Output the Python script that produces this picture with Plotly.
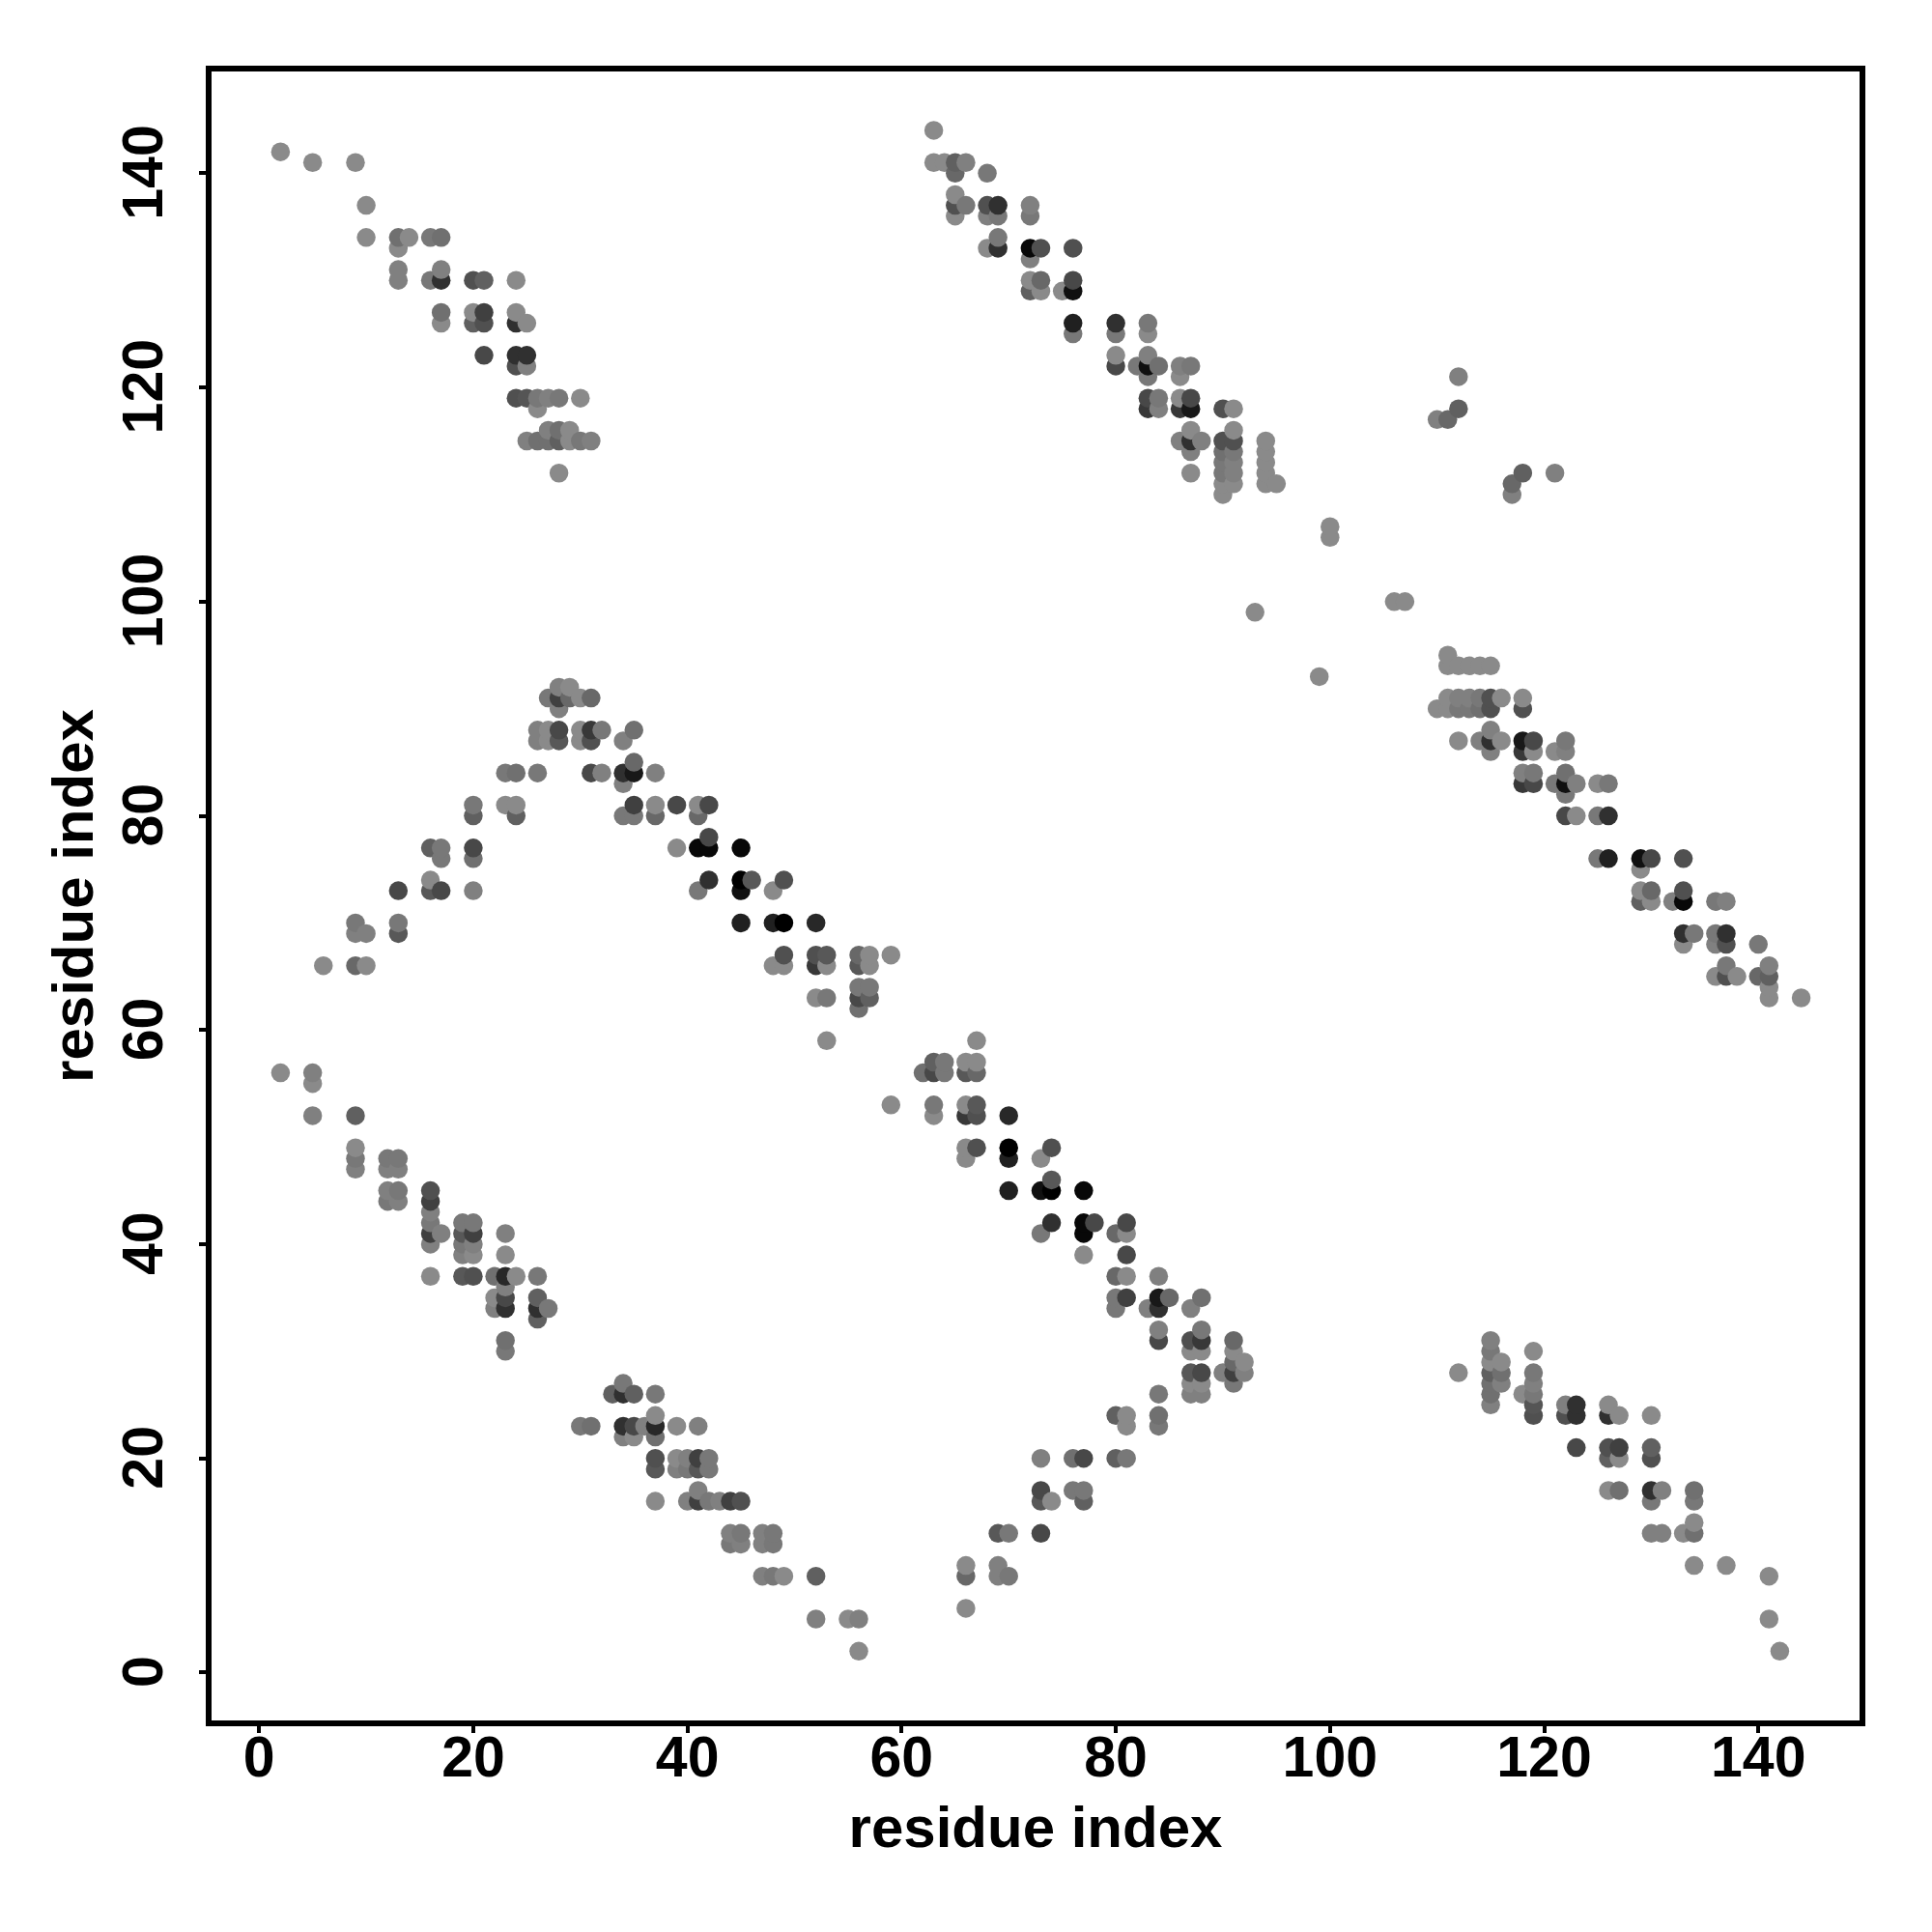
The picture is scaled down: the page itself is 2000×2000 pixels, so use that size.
import numpy as np
import plotly.graph_objects as go

# Upper triangle of a symmetric residue contact map: one line per row of the map.
x_upper = [
    2, 5, 9, 10, 10, 13, 14, 16, 17, 13, 13, 13, 16, 17, 20, 21, 24, 17,
    17, 17, 20, 21, 24, 20, 21, 24, 25, 21, 24, 25, 24, 25,
    24, 25, 26, 27, 28, 30, 26,
    27, 28, 29, 25, 26, 27, 28, 29, 30, 31, 28,
    # second block
    63, 63, 64, 65, 66, 65, 68, 65, 65, 66, 68, 69, 72, 65, 68, 69, 72, 69,
    68, 69, 72, 73, 76, 72, 72, 73, 76, 72, 73, 75, 76,
    76, 80, 83, 76, 80, 83, 80, 83,
    80, 82, 83, 84, 86, 87, 83, 86,
    83, 84, 86, 87, 83, 84, 86, 87, 90, 91,
    87, 91, 86, 87, 88, 90, 91, 94,
    87, 90, 91, 94, 90, 91, 94, 87, 90, 91, 94,
    90, 91, 94, 95, 90,
    # isolated contacts
    112, 112, 111, 110, 100, 100, 93,
    # rising band
    6, 9, 10, 9, 9, 10, 13, 13, 13, 16, 16, 17, 20,
    16, 17, 17, 20, 20, 20, 20, 23, 24, 24,
    23, 24, 26, 31, 32, 34, 35, 37, 34, 35,
    26, 27, 28, 30, 31, 32, 35, 26, 27, 28, 30, 31, 34,
    28, 29, 27, 28, 29, 30, 31, 28,
    # falling band
    35, 37, 39, 41, 42, 34, 35, 37, 41,
    39, 41, 42, 45, 42, 42, 45, 46, 49, 41, 45, 48,
    45, 48, 49, 52, 49, 52, 53, 56, 57, 59,
    48, 49, 52, 53, 56, 57, 56, 57, 52, 53, 56, 57, 56, 53,
    # lower-left band
    2, 5, 5, 5, 9, 9, 9, 9, 12, 13, 12, 13, 12, 13, 12, 13,
    16, 16, 16, 16, 16, 16, 17, 16,
    19, 19, 19, 19, 19, 20, 20, 20, 20, 20,
    23, 23, 23, 23, 23, 23, 23, 23, 22, 22, 22, 24,
    26, 26, 26, 26, 27,
]
y_upper = [
    142, 141, 141, 137, 134, 134, 134, 134, 134, 133, 131, 130, 130, 130, 130, 130, 130, 131,
    127, 126, 127, 127, 127, 126, 126, 126, 126, 123, 123, 123, 122, 122,
    119, 119, 119, 119, 119, 119, 118,
    116, 116, 116, 115, 115, 115, 115, 115, 115, 115, 112,
    # second block
    144, 141, 141, 141, 141, 140, 140, 138, 137, 137, 137, 137, 137, 136, 136, 136, 136, 134,
    133, 133, 133, 133, 133, 132, 130, 130, 130, 129, 129, 129, 129,
    126, 126, 126, 125, 125, 125, 123, 123,
    122, 122, 122, 122, 122, 122, 121, 121,
    119, 119, 119, 119, 118, 118, 118, 118, 118, 118,
    116, 116, 115, 115, 115, 115, 115, 115,
    114, 114, 114, 114, 113, 113, 113, 112, 112, 112, 112,
    111, 111, 111, 111, 110,
    # isolated contacts
    121, 118, 117, 117, 107, 106, 99,
    # rising band
    66, 66, 66, 70, 69, 69, 70, 69, 73, 74, 73, 73, 73,
    77, 77, 76, 77, 76, 81, 80, 81, 81, 80,
    84, 84, 84, 84, 84, 84, 84, 84, 83, 85,
    88, 88, 88, 88, 88, 88, 88, 87, 87, 87, 87, 87, 87,
    92, 92, 91, 91, 91, 91, 91, 90,
    # falling band
    81, 81, 81, 81, 81, 80, 80, 80, 80,
    77, 77, 77, 77, 78, 74, 74, 74, 74, 73, 73, 73,
    70, 70, 70, 70, 67, 67, 67, 67, 67, 67,
    66, 66, 66, 66, 66, 66, 64, 64, 63, 63, 63, 63, 62, 59,
    # lower-left band
    56, 56, 55, 52, 52, 49, 48, 47, 48, 48, 47, 47, 45, 45, 44, 44,
    45, 44, 43, 42, 41, 40, 41, 37,
    42, 41, 40, 39, 37, 42, 41, 40, 39, 37,
    41, 39, 37, 36, 35, 34, 31, 30, 37, 35, 34, 37,
    37, 35, 34, 33, 34,
]
# Grey level of each contact (0 = black)
grey_upper = [
    138, 138, 138, 138, 138, 112, 138, 120, 112, 138, 128, 128, 120, 48, 80, 96, 138, 128,
    112, 138, 138, 64, 138, 96, 80, 48, 138, 72, 48, 48, 80, 128,
    80, 85, 120, 128, 120, 138, 138,
    128, 112, 138, 128, 112, 112, 96, 138, 120, 128, 138,
    # second block
    138, 138, 138, 96, 128, 104, 120, 138, 80, 120, 80, 48, 128, 138, 128, 120, 120, 120,
    138, 48, 8, 80, 80, 128, 138, 104, 72, 96, 138, 138, 16,
    32, 48, 120, 120, 120, 138, 138, 128,
    72, 120, 16, 112, 128, 120, 120, 138,
    72, 120, 138, 72, 56, 128, 56, 24, 80, 138,
    138, 138, 128, 48, 128, 80, 80, 138,
    128, 112, 120, 138, 120, 128, 138, 138, 120, 128, 138,
    138, 138, 138, 138, 138,
    # isolated contacts
    128, 96, 104, 128, 138, 138, 138,
    # rising band
    138, 104, 138, 120, 128, 128, 120, 88, 72, 138, 88, 72, 128,
    96, 120, 120, 72, 112, 120, 96, 138, 138, 96,
    120, 112, 120, 72, 128, 48, 24, 128, 128, 104,
    128, 138, 72, 138, 56, 120, 112, 128, 138, 88, 138, 80, 128,
    128, 138, 120, 64, 104, 138, 104, 128,
    # falling band
    64, 138, 72, 138, 72, 120, 120, 104, 104,
    138, 8, 8, 8, 72, 48, 0, 88, 80, 120, 16, 138,
    32, 32, 0, 40, 80, 80, 88, 104, 138, 138,
    138, 138, 56, 138, 88, 138, 120, 120, 138, 120, 72, 96, 112, 138,
    # lower-left band
    138, 128, 138, 128, 96, 138, 120, 128, 120, 120, 128, 128, 128, 120, 120, 128,
    80, 64, 128, 120, 64, 128, 128, 138,
    120, 88, 120, 128, 88, 120, 64, 128, 138, 80,
    128, 138, 40, 128, 72, 48, 112, 120, 112, 138, 128, 138,
    120, 96, 48, 96, 120,
]
tick_values = [0, 20, 40, 60, 80, 100, 120, 140]
x_label = "residue index"
y_label = "residue index"

assert len(x_upper) == len(y_upper) == len(grey_upper), (len(x_upper), len(y_upper), len(grey_upper))

# the map is symmetric; marks are drawn column by column
xs = np.array(x_upper + y_upper)
ys = np.array(y_upper + x_upper)
gs = np.array(grey_upper + grey_upper)
order = np.lexsort((ys, xs))

fig = go.Figure(go.Scatter(
    x=xs[order], y=ys[order], mode="markers",
    marker=dict(size=19.5, color=gs[order], cmin=0, cmax=255,
                colorscale=[[0, "#000000"], [1, "#ffffff"]],
                showscale=False, line=dict(width=0)),
    hoverinfo="skip", showlegend=False,
))
tick_font = dict(family="Liberation Sans", size=59, color="black", weight=700)
title_font = dict(family="Liberation Sans", size=60, color="black", weight=700)
axis = dict(tickmode="array", tickvals=tick_values, ticks="outside", ticklen=7,
            tickwidth=4, tickcolor="black", showgrid=False, zeroline=False,
            showline=True, mirror=True, linecolor="black", linewidth=6,
            tickfont=tick_font)
fig.update_layout(
    width=1990, height=1990, autosize=False,
    margin=dict(l=211, r=73, t=66, b=217, pad=0),
    paper_bgcolor="white", plot_bgcolor="white",
    xaxis=dict(axis, range=[-4.44, 149.45], ticklabelstandoff=-26,
               title=dict(text=x_label, font=title_font, standoff=21)),
    yaxis=dict(axis, range=[-4.47, 149.5], tickangle=-90, ticklabelstandoff=14,
               ticklabelshift=8,
               title=dict(text=y_label, font=title_font, standoff=1)),
)
fig.write_html("out.html")
